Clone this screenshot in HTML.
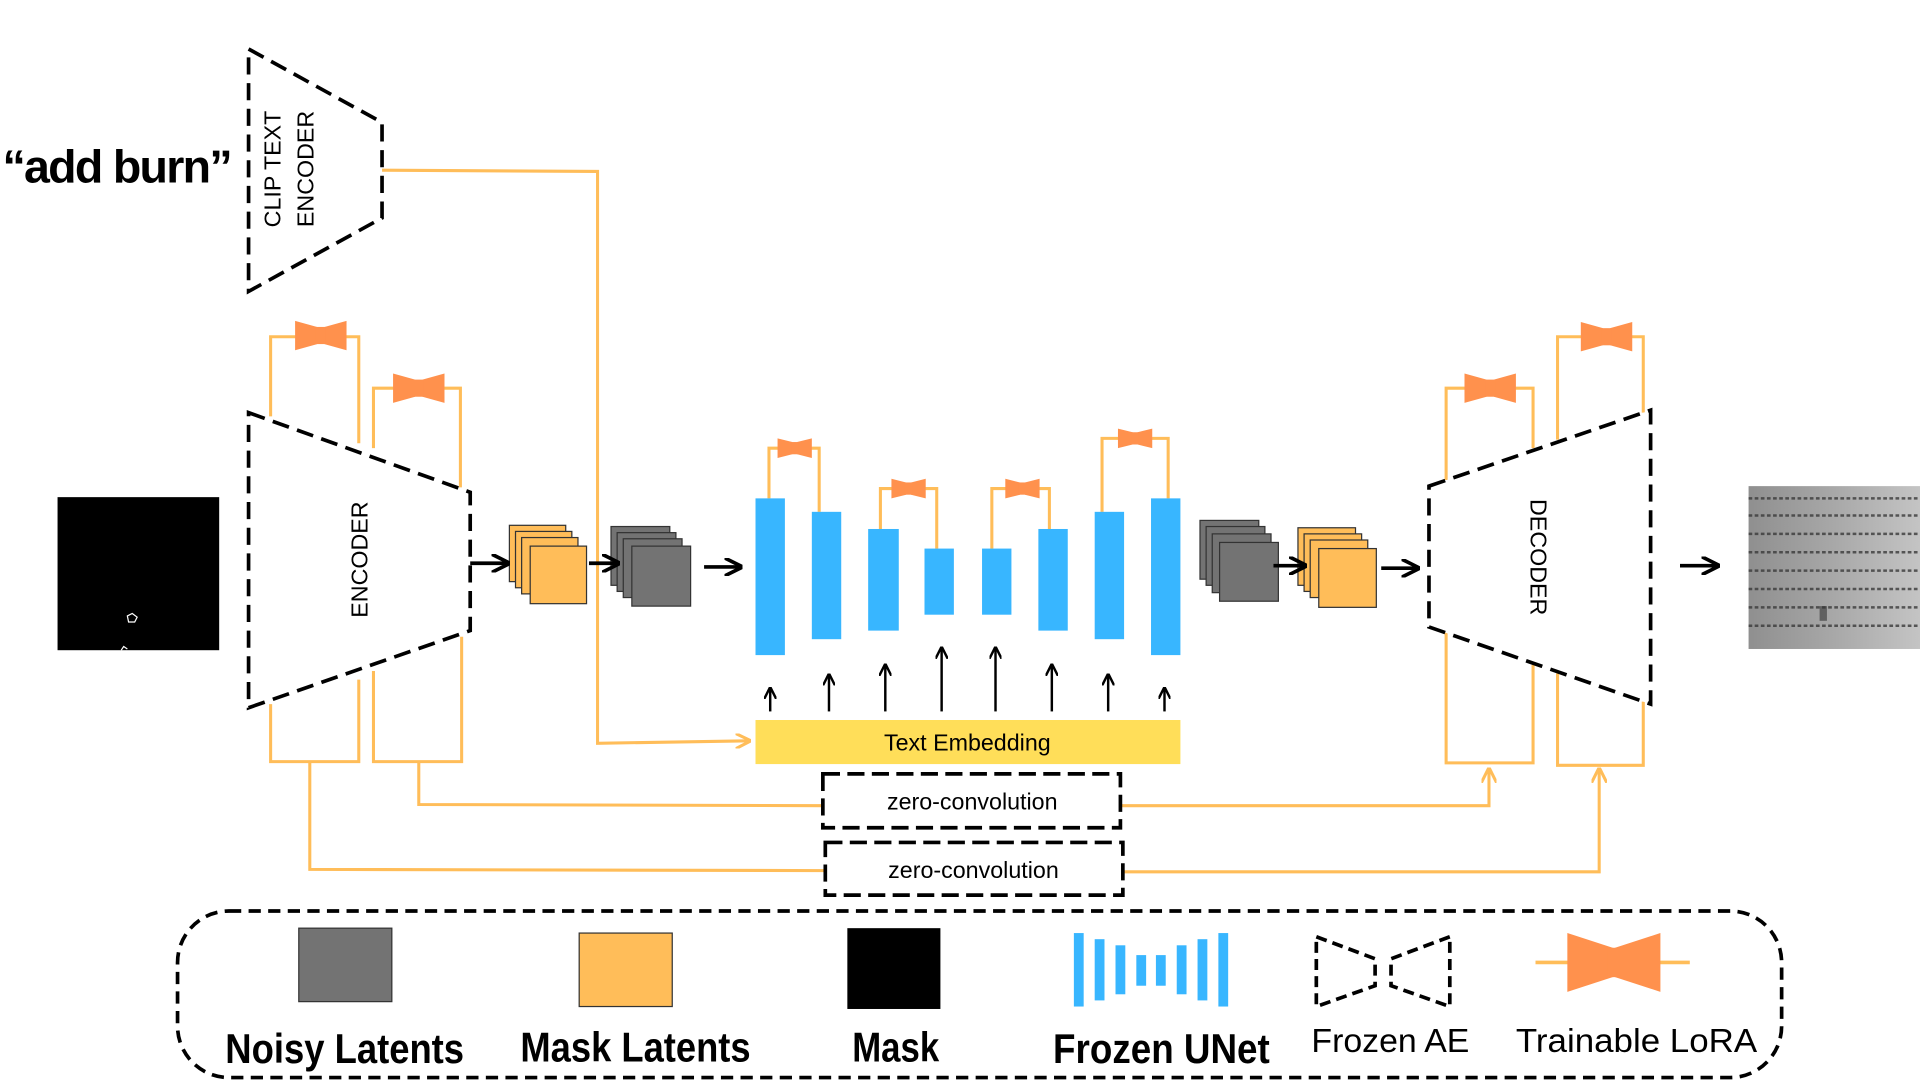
<!DOCTYPE html>
<html><head><meta charset="utf-8"><style>
html,body{margin:0;padding:0;background:#fff;width:1920px;height:1080px;overflow:hidden}
svg{display:block}
text{font-family:"Liberation Sans",sans-serif}
</style></head><body>
<svg width="1920" height="1080" viewBox="0 0 1568 882" xmlns="http://www.w3.org/2000/svg">
<defs>
<g id="bow"><polygon points="-21,-12 -3,-7 -3,7 -21,12" fill="#ff914d"/><polygon points="21,-12 3,-7 3,7 21,12" fill="#ff914d"/><rect x="-4" y="-7" width="8" height="14" fill="#ff914d"/></g>
<g id="bows"><polygon points="-14,-8 -2,-5 -2,5 -14,8" fill="#ff914d"/><polygon points="14,-8 2,-5 2,5 14,8" fill="#ff914d"/><rect x="-3" y="-5" width="6" height="10" fill="#ff914d"/></g>
<marker id="ah" viewBox="0 0 10 10" refX="9" refY="5" markerWidth="5" markerHeight="5" orient="auto"><path d="M0,0 L10,5 L0,10" fill="none" stroke="#000" stroke-width="2"/></marker>
<marker id="oa" viewBox="0 0 10 10" refX="9" refY="5" markerWidth="5" markerHeight="5" orient="auto"><path d="M0,0 L10,5 L0,10" fill="none" stroke="#ffbd59" stroke-width="2"/></marker>
<linearGradient id="og" x1="0" x2="1" y1="0" y2="0"><stop offset="0" stop-color="#8f8f8f"/><stop offset="0.5" stop-color="#a8a8a8"/><stop offset="1" stop-color="#c4c4c4"/></linearGradient>
</defs>

<text x="2" y="149" font-size="38" font-weight="bold" textLength="188">“add burn”</text>

<g fill="none" stroke="#ffbd59" stroke-width="2.5">
<polyline points="312,139 488,140 488,607 612,605" marker-end="url(#oa)"/>
<polyline points="221,340 221,275 293,275 293,362"/>
<polyline points="305,366 305,317 376,317 376,398"/>
<polyline points="221,575 221,622 293,622 293,555"/>
<polyline points="305,548 305,622 377,622 377,520"/>
<polyline points="342,622 342,657 673,658"/>
<polyline points="253,622 253,710 674,711"/>
<polyline points="915,658 1216,658 1216,628" marker-end="url(#oa)"/>
<polyline points="917,712 1306,712 1306,628" marker-end="url(#oa)"/>
<polyline points="1181,392 1181,317 1252,317 1252,366"/>
<polyline points="1272,359 1272,275 1342,275 1342,337"/>
<polyline points="1181,515 1181,623 1252,623 1252,543"/>
<polyline points="1272,550 1272,625 1342,625 1342,573"/>
<polyline points="628,407 628,366 669,366 669,418"/>
<polyline points="719,432 719,399 765,399 765,448"/>
<polyline points="810,448 810,399 857,399 857,432"/>
<polyline points="900,418 900,358 954,358 954,407"/>
</g>
<use href="#bow" x="262" y="274"/>
<use href="#bow" x="342" y="317"/>
<use href="#bow" x="1217" y="317"/>
<use href="#bow" x="1312" y="275"/>
<use href="#bows" x="649" y="366"/>
<use href="#bows" x="742" y="399"/>
<use href="#bows" x="835" y="399"/>
<use href="#bows" x="927" y="358"/>

<g fill="#fff" stroke="#000" stroke-width="3" stroke-dasharray="14,7">
<polygon points="203,40 312,100 312,178 203,238"/>
<polygon points="203,337 384,402 384,515 203,578"/>
<polygon points="1167,397 1348,335 1348,575 1167,512"/>
</g>
<text transform="translate(229,138) rotate(-90)" font-size="19" text-anchor="middle">CLIP TEXT</text>
<text transform="translate(256,138) rotate(-90)" font-size="19" text-anchor="middle">ENCODER</text>
<text transform="translate(300,457) rotate(-90)" font-size="19" text-anchor="middle">ENCODER</text>
<text transform="translate(1250,455) rotate(90)" font-size="19" text-anchor="middle">DECODER</text>

<rect x="47" y="406" width="132" height="125" fill="#000"/>
<polygon points="104,503 108,501 112,504 110,508 105,508" fill="none" stroke="#fff" stroke-width="1"/>
<path d="M99,531 l2,-3 l3,2" fill="none" stroke="#fff" stroke-width="1"/>

<g stroke="#333" stroke-width="1">
<rect x="416" y="429" width="46" height="46" fill="#ffbd59"/><rect x="421" y="434" width="46" height="46" fill="#ffbd59"/><rect x="426" y="439" width="46" height="46" fill="#ffbd59"/><rect x="433" y="446" width="46" height="47" fill="#ffbd59"/>
<rect x="499" y="430" width="48" height="48" fill="#737373"/><rect x="504" y="435" width="48" height="48" fill="#737373"/><rect x="509" y="440" width="48" height="48" fill="#737373"/><rect x="516" y="446" width="48" height="49" fill="#737373"/>
<rect x="980" y="425" width="48" height="48" fill="#737373"/><rect x="985" y="430" width="48" height="48" fill="#737373"/><rect x="990" y="436" width="48" height="48" fill="#737373"/><rect x="996" y="443" width="48" height="48" fill="#737373"/>
<rect x="1060" y="431" width="47" height="47" fill="#ffbd59"/><rect x="1065" y="436" width="47" height="47" fill="#ffbd59"/><rect x="1070" y="441" width="47" height="47" fill="#ffbd59"/><rect x="1077" y="448" width="47" height="48" fill="#ffbd59"/>
</g>

<g stroke="#000" stroke-width="3" fill="none" marker-end="url(#ah)">
<line x1="384" y1="460" x2="415" y2="460"/>
<line x1="481" y1="460" x2="505" y2="460"/>
<line x1="575" y1="463" x2="605" y2="463"/>
<line x1="1040" y1="462" x2="1066" y2="462"/>
<line x1="1128" y1="464" x2="1158" y2="464"/>
<line x1="1372" y1="462" x2="1403" y2="462"/>
</g>
<g stroke="#000" stroke-width="2" fill="none" marker-end="url(#ah)">
<line x1="629" y1="581" x2="629" y2="562"/>
<line x1="677" y1="581" x2="677" y2="551"/>
<line x1="723" y1="581" x2="723" y2="543"/>
<line x1="769" y1="581" x2="769" y2="529"/>
<line x1="813" y1="581" x2="813" y2="529"/>
<line x1="859" y1="581" x2="859" y2="543"/>
<line x1="905" y1="581" x2="905" y2="551"/>
<line x1="951" y1="581" x2="951" y2="562"/>
</g>

<g fill="#38b6ff">
<rect x="617" y="407" width="24" height="128"/><rect x="663" y="418" width="24" height="104"/>
<rect x="709" y="432" width="25" height="83"/><rect x="755" y="448" width="24" height="54"/>
<rect x="802" y="448" width="24" height="54"/><rect x="848" y="432" width="24" height="83"/>
<rect x="894" y="418" width="24" height="104"/><rect x="940" y="407" width="24" height="128"/>
</g>

<rect x="617" y="588" width="347" height="36" fill="#ffde59"/>
<text x="790" y="613" font-size="19" text-anchor="middle">Text Embedding</text>

<g fill="#fff" stroke="#000" stroke-width="3" stroke-dasharray="14,6">
<rect x="672" y="632" width="243" height="44"/>
<rect x="674" y="688" width="243" height="43"/>
</g>
<text x="794" y="661" font-size="19" text-anchor="middle">zero-convolution</text>
<text x="795" y="717" font-size="19" text-anchor="middle">zero-convolution</text>

<rect x="1428" y="397" width="140" height="133" fill="url(#og)"/>
<g stroke="#3a3a3a" stroke-width="2" stroke-dasharray="3,2" opacity="0.8">
<line x1="1428" y1="407" x2="1568" y2="407"/><line x1="1428" y1="421" x2="1568" y2="421"/>
<line x1="1428" y1="436" x2="1568" y2="436"/><line x1="1428" y1="451" x2="1568" y2="451"/>
<line x1="1428" y1="466" x2="1568" y2="466"/><line x1="1428" y1="481" x2="1568" y2="481"/>
<line x1="1428" y1="496" x2="1568" y2="496"/><line x1="1428" y1="511" x2="1568" y2="511"/>
</g>
<rect x="1486" y="495" width="6" height="12" fill="#333" opacity="0.6"/>

<rect x="145" y="744" width="1310" height="136" rx="42" fill="none" stroke="#000" stroke-width="3" stroke-dasharray="10,6"/>
<rect x="244" y="758" width="76" height="60" fill="#737373" stroke="#333"/>
<rect x="473" y="762" width="76" height="60" fill="#ffbd59" stroke="#333"/>
<rect x="692" y="758" width="76" height="66" fill="#000"/>
<g fill="#38b6ff">
<rect x="877" y="762" width="8" height="60"/><rect x="894" y="767" width="8" height="50"/><rect x="911" y="772" width="8" height="40"/><rect x="928" y="780" width="8" height="25"/>
<rect x="944" y="780" width="8" height="25"/><rect x="961" y="772" width="8" height="40"/><rect x="978" y="767" width="8" height="50"/><rect x="995" y="762" width="8" height="60"/>
</g>
<g fill="none" stroke="#000" stroke-width="3" stroke-dasharray="9,5">
<polygon points="1075,765 1123,783 1123,805 1075,822"/>
<polygon points="1184,765 1136,783 1136,805 1184,822"/>
</g>
<line x1="1254" y1="786" x2="1380" y2="786" stroke="#ffbd59" stroke-width="3"/>
<polygon points="1280,762 1317,774 1317,798 1280,810" fill="#ff914d"/>
<polygon points="1356,762 1319,774 1319,798 1356,810" fill="#ff914d"/>
<rect x="1313" y="774" width="10" height="24" fill="#ff914d"/>

<g font-weight="bold" font-size="34">
<text x="184" y="868" textLength="195" lengthAdjust="spacingAndGlyphs">Noisy Latents</text>
<text x="425" y="867" textLength="188" lengthAdjust="spacingAndGlyphs">Mask Latents</text>
<text x="696" y="867" textLength="71" lengthAdjust="spacingAndGlyphs">Mask</text>
<text x="860" y="868" textLength="177" lengthAdjust="spacingAndGlyphs">Frozen UNet</text>
</g>
<text x="1071" y="859" font-size="27" textLength="129" lengthAdjust="spacingAndGlyphs">Frozen AE</text>
<text x="1238" y="859" font-size="27" textLength="197" lengthAdjust="spacingAndGlyphs">Trainable LoRA</text>
</svg>
</body></html>
